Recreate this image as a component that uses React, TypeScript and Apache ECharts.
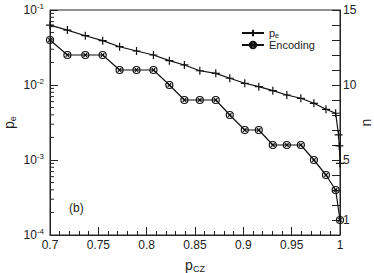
import React, { useEffect, useRef } from "react";
import * as echarts from "echarts";

const pCZ = [0.7, 0.718, 0.7365, 0.7545, 0.772, 0.7895, 0.807, 0.8235, 0.839, 0.855, 0.8715, 0.886, 0.9015, 0.916, 0.9305, 0.945, 0.9595, 0.973, 0.9855, 0.9955];
const pCZTail = [0.9985, 0.9993, 1.0];
const peValues = [0.063, 0.054, 0.0454, 0.039, 0.0324, 0.0284, 0.0251, 0.0211, 0.0185, 0.0155, 0.0143, 0.0123, 0.01054, 0.0095, 0.0084, 0.00736, 0.00665, 0.0057, 0.00474, 0.0042];
const peTail = [0.00216, 0.00154, 0.0009];
const encodingN = [13, 12, 12, 12, 11, 11, 11, 10, 9, 9, 9, 8, 7, 7, 6, 6, 6, 5, 4, 3];
const encodingTailX = [1.0];
const encodingTailN = [1];
const xTicks = [0.7, 0.75, 0.8, 0.85, 0.9, 0.95, 1];
const nLabels = [1, 5, 10, 15];

const FONT = "Liberation Sans, Arial, Helvetica, sans-serif";
const TXT = "#222";

function minorLogTicks(): number[] {
  const out: number[] = [];
  for (let e = -4; e < -1; e++) {
    for (let k = 2; k <= 9; k++) out.push(k * Math.pow(10, e));
  }
  return out;
}

export default function App() {
  const ref = useRef<HTMLDivElement>(null);
  useEffect(() => {
    if (!ref.current) return;
    const chart = echarts.init(ref.current, undefined, { renderer: "svg" });
    const peData = pCZ.map((x, i) => [x, peValues[i]]).concat(pCZTail.map((x, i) => [x, peTail[i]]));
    const encData = pCZ.map((x, i) => [x, encodingN[i]]).concat(encodingTailX.map((x, i) => [x, encodingTailN[i]]));
    const plus = "path://M0,5L10,5M5,0L5,10";
    const circ = "path://M10,5A5,5,0,1,1,0,5A5,5,0,1,1,10,5ZM2.5,2.5L7.5,7.5M7.5,2.5L2.5,7.5";
    const supRich = {
      b: { fontSize: 12, fontFamily: FONT, color: TXT },
      s: { fontSize: 8, fontFamily: FONT, color: TXT, padding: [0, 0, 8, 0] },
    };
    chart.setOption({
      animation: false,
      backgroundColor: "#fff",
      grid: { left: 50, right: 34, top: 10, bottom: 38, show: true, borderColor: "#222", borderWidth: 1, outerBoundsMode: "none", containLabel: false },
      legend: {
        orient: "vertical",
        left: 241,
        top: 27,
        itemWidth: 22,
        itemHeight: 8,
        itemGap: 0,
        padding: 0,
        data: ["pe", "Encoding"],
        textStyle: {
          fontSize: 11,
          lineHeight: 12,
          fontFamily: FONT,
          color: TXT,
          rich: {
            p: { fontSize: 11, lineHeight: 12, fontFamily: FONT, color: TXT },
            e: { fontSize: 7, lineHeight: 12, fontFamily: FONT, color: TXT, verticalAlign: "bottom" },
          },
        },
        formatter: (name: string) => (name === "pe" ? "{p|p}{e|e}" : name),
      },
      xAxis: {
        type: "value",
        min: 0.7,
        max: 1,
        interval: 0.05,
        name: "{p|p}{s|CZ}",
        nameLocation: "middle",
        nameGap: 22,
        nameMoveOverlap: false,
        nameTextStyle: {
          rich: {
            p: { fontSize: 14, fontFamily: FONT, color: TXT },
            s: { fontSize: 9, fontFamily: FONT, color: TXT, padding: [7, 0, 0, 0] },
          },
        },
        axisLine: { show: true, lineStyle: { color: "#222" } },
        axisTick: { inside: true, length: 8, lineStyle: { color: "#222" } },
        minorTick: { show: true, splitNumber: 5, length: 4, lineStyle: { color: "#222" } },
        axisLabel: {
          fontSize: 12,
          fontFamily: FONT,
          color: TXT,
          margin: 4,
          customValues: xTicks,
          formatter: (v: number) => String(+v.toFixed(2)),
        },
        splitLine: { show: false },
      },
      yAxis: [
        {
          type: "log",
          logBase: 10,
          min: 1e-4,
          max: 1e-1,
          position: "left",
          name: "{p|p}{s|e}",
          nameLocation: "middle",
          nameGap: 33,
          nameMoveOverlap: false,
          nameRotate: 90,
          nameTextStyle: {
            rich: {
              p: { fontSize: 14, fontFamily: FONT, color: TXT },
              s: { fontSize: 9, fontFamily: FONT, color: TXT, padding: [7, 0, 0, 0] },
            },
          },
          axisLine: { show: true, lineStyle: { color: "#222" } },
          axisTick: { inside: true, length: 8, lineStyle: { color: "#222" } },
          axisLabel: {
            margin: 6,
            formatter: (v: number) => "{b|10}{s|" + Math.round(Math.log10(v)) + "}",
            rich: supRich,
          },
          splitLine: { show: false },
        },
        {
          type: "value",
          min: 0,
          max: 15,
          interval: 1,
          position: "right",
          name: "n",
          nameLocation: "middle",
          nameGap: 19,
          nameMoveOverlap: false,
          nameRotate: 90,
          nameTextStyle: { fontSize: 14, fontFamily: FONT, color: TXT },
          axisLine: { show: true, lineStyle: { color: "#222" } },
          axisTick: { inside: true, length: 8, lineStyle: { color: "#222" } },
          axisLabel: {
            fontSize: 12,
            fontFamily: FONT,
            color: TXT,
            margin: 3,
            formatter: (v: number) => (nLabels.indexOf(v) >= 0 ? String(v) : ""),
          },
          splitLine: { show: false },
        },
      ],
      graphic: [
        { type: "text", left: 69, top: 202, style: { text: "(b)", fontSize: 12, fontFamily: FONT, fill: TXT } },
      ],
      series: [
        {
          name: "minorTicks",
          type: "custom",
          yAxisIndex: 0,
          silent: true,
          clip: false,
          data: minorLogTicks().map((v) => [0.7, v]),
          renderItem: (params: any, api: any) => {
            const p = api.coord([api.value(0), api.value(1)]);
            return {
              type: "line",
              shape: { x1: p[0], y1: p[1], x2: p[0] + 4, y2: p[1] },
              style: { stroke: "#222", lineWidth: 1 },
            };
          },
        },
        {
          name: "pe",
          type: "line",
          yAxisIndex: 0,
          data: peData,
          symbol: plus,
          symbolSize: 8,
          lineStyle: { color: "#111", width: 1.2 },
          itemStyle: { color: "none", borderColor: "#111", borderWidth: 1.2 },
        },
        {
          name: "Encoding",
          type: "line",
          yAxisIndex: 1,
          data: encData,
          symbol: circ,
          symbolSize: 7,
          lineStyle: { color: "#111", width: 1.2 },
          itemStyle: { color: "none", borderColor: "#111", borderWidth: 1.2 },
        },
      ],
    });
    return () => chart.dispose();
  }, []);
  return <div ref={ref} style={{ width: 374, height: 273, position: "absolute", left: 0, top: 0 }} />;
}
